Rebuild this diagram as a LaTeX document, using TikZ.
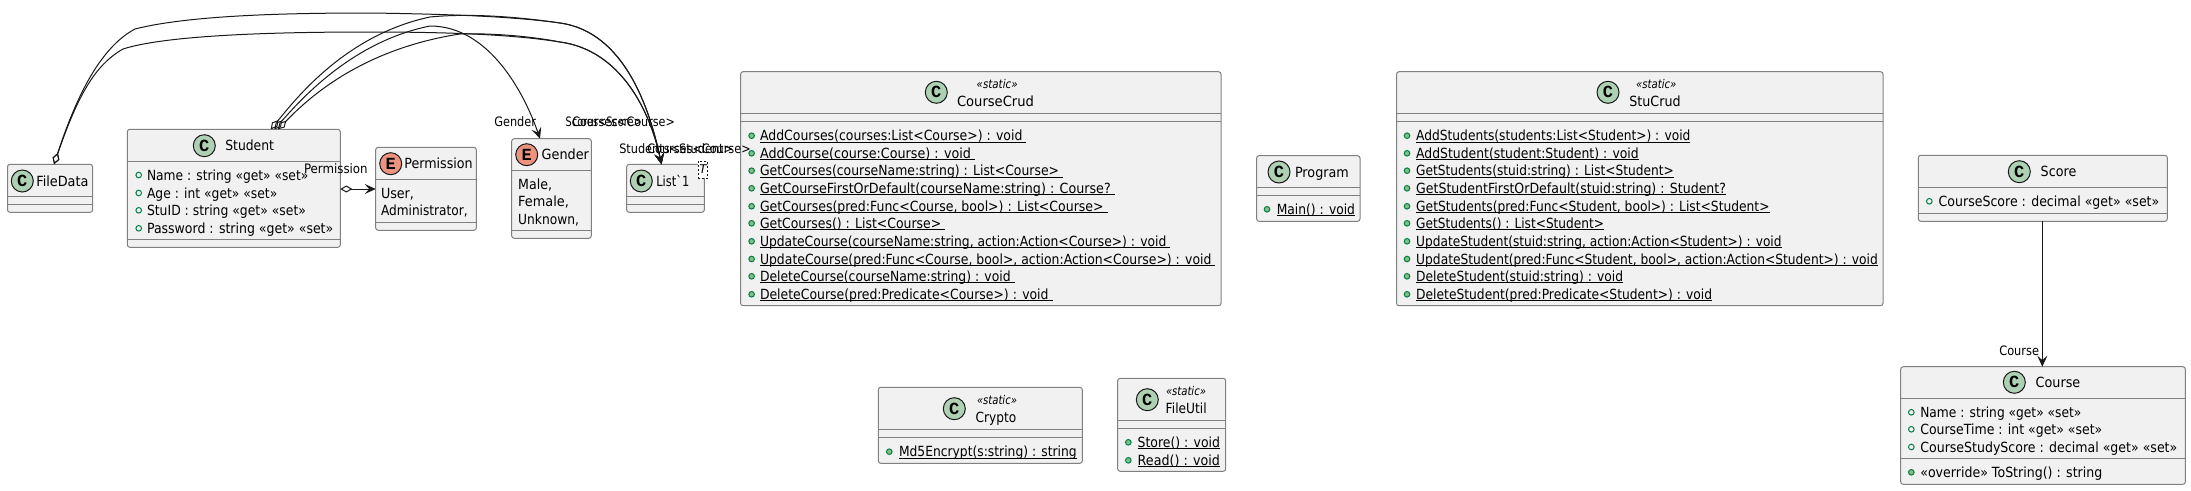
\documentclass[tikz,border=0pt]{standalone}
\usepackage{fontspec}
\usepackage{graphicx}
\usetikzlibrary{arrows.meta}
\newfontfamily\umlfont{DejaVu Sans}
\newfontfamily\spotfont{Liberation Mono}
\definecolor{boxbg}{HTML}{F1F1F1}
\definecolor{boxline}{HTML}{808080}
\definecolor{ink}{HTML}{181818}
\definecolor{spotC}{HTML}{ADD1B2}
\definecolor{spotE}{HTML}{EB937F}
\definecolor{vis}{HTML}{038048}
\definecolor{visfill}{HTML}{84BE84}
\newcounter{nd}
\newsavebox{\ulsave}
\newcommand{\ulbox}[1]{\sbox{\ulsave}{#1}\rlap{\rule[-2pt]{\wd\ulsave}{.9pt}}\usebox{\ulsave}}
\tikzset{
  classbox/.style={draw=boxline,fill=boxbg,line width=1pt,rounded corners=2.5pt,anchor=north west,inner sep=0pt,outer sep=0pt},
  sepline/.style={draw=boxline,line width=1pt},
  txt/.style={inner sep=0pt,outer sep=0pt,text=black,anchor=base west,font=\umlfont\fontsize{14}{16}\selectfont},
  lbl/.style={inner sep=0pt,outer sep=0pt,text=black,anchor=base west,font=\umlfont\fontsize{13}{15}\selectfont},
  stereo/.style={inner sep=0pt,outer sep=0pt,text=black,anchor=base west,font=\umlfont\itshape\fontsize{12}{14}\selectfont},
  spot/.style={circle,draw=ink,line width=1pt,minimum size=22pt,inner sep=0pt,outer sep=0pt,font=\spotfont\bfseries\fontsize{17}{17}\selectfont},
  conn/.style={draw=ink,line width=1pt},
  assoc/.style={conn,-{Stealth[length=11pt,width=10pt,inset=4.5pt]}},
  aggr/.style={conn,{Diamond[open,length=12pt,width=7pt]}-{Stealth[length=11pt,width=10pt,inset=4.5pt]}},
}
% name, x1, y1, x2, y2, sep1, sep2
\newcommand{\cbox}[7]{%
  \pgfmathsetmacro{\bw}{#4-#2}\pgfmathsetmacro{\bh}{#5-#3}%
  \node[classbox,minimum width=\bw pt,minimum height=\bh pt] (#1) at (#2,#3) {};
  \draw[sepline] (#1.west |- 0,#6) -- (#1.east |- 0,#6);
  \draw[sepline] (#1.west |- 0,#7) -- (#1.east |- 0,#7);
}
\newcommand{\cspot}[4]{\stepcounter{nd}\node[spot,fill=#1] (s\arabic{nd}) at (#3,#4) {#2};}
% style, x1, x2, y of text centre, baseline drop, text: fitted to the span x1..x2
\newcommand{\fit}[6]{\stepcounter{nd}\pgfmathsetmacro{\tw}{#3-#2}%
  \node[#1] (t\arabic{nd}) at (#2,#4+#5) {\resizebox{\tw pt}{\height}{#6}};}
\newcommand{\cfield}[4]{\fit{txt}{#1}{#2}{#3}{5}{#4}}
\newcommand{\clabel}[4]{\fit{lbl}{#1}{#2}{#3}{4.5}{#4}}
\newcommand{\cstereo}[4]{\fit{stereo}{#1}{#2}{#3}{4.5}{#4}}
\newcommand{\cpub}[5]{\draw[vis,line width=1pt] (#1,#4) circle (2.8pt); \cfield{#2}{#3}{#4}{#5}}
\newcommand{\cmeth}[5]{\filldraw[draw=vis,fill=visfill,line width=1pt] (#1,#4) circle (2.8pt); \cfield{#2}{#3}{#4}{\ulbox{#5}}}
\begin{document}
\begin{tikzpicture}[x=1pt,y=-1pt]
\useasboundingbox (0,0) rectangle (2191,490);
% ---------- boxes
\cbox{filedata}{7.5}{164.3}{92.6}{212.3}{196.3}{204.3}
\cspot{spotC}{C}{22.3}{181}
\cfield{36.3}{88.5}{181}{FileData}

\cbox{student}{127.3}{129.3}{340.3}{247.3}{161.7}{239.3}
\cspot{spotC}{C}{204.3}{145.7}
\cfield{225.3}{274}{145.7}{Student}
\cpub{138.7}{147}{308.3}{175}{Name : string «get» «set»}
\cpub{138.7}{147}{277.3}{193}{Age : int «get» «set»}
\cpub{138.7}{147}{306}{210.3}{StuID : string «get» «set»}
\cpub{138.7}{147}{333.3}{228.3}{Password : string «get» «set»}

\cbox{permission}{375.7}{147.3}{476.3}{230.3}{179.3}{222.3}
\cspot{spotE}{E}{390.7}{163.7}
\cfield{404.3}{472.7}{163.7}{Permission}
\cfield{381}{414}{193}{User,}
\cfield{381}{467.7}{210}{Administrator,}

\cbox{gender}{511.7}{138.7}{591.3}{238.3}{170.7}{230.3}
\cspot{spotE}{E}{526.7}{154.7}
\cfield{541.7}{589}{154.7}{Gender}
\cfield{518.2}{552}{184.3}{Male,}
\cfield{518.2}{568.9}{201.7}{Female,}
\cfield{518.2}{579}{219}{Unknown,}

\cbox{list}{626.7}{164.3}{704.3}{212.3}{196.3}{204.3}
\cspot{spotC}{C}{641.3}{181}
\cfield{656.3}{689.3}{181}{List`1}
\node[draw=ink,dash pattern=on 2pt off 2pt,fill=white,line width=.7pt,minimum width=9.4pt,minimum height=17.3pt,inner sep=0pt,outer sep=0pt,font=\umlfont\itshape\fontsize{12}{12}\selectfont] (listT) at (703,169.6) {T};

\cbox{coursecrud}{740.6}{71.7}{1221}{305.7}{113.3}{121.3}
\cspot{spotC}{C}{936.3}{92.3}
\cstereo{976.7}{1017.6}{84}{«static»}
\cfield{957}{1034}{101.3}{CourseCrud}
\cmeth{751.6}{760}{1026.4}{135.7}{AddCourses(courses:List<Course>) : void\ }
\cmeth{751.6}{760}{975}{153.3}{AddCourse(course:Course) : void\ }
\cmeth{751.6}{760}{1063}{170.7}{GetCourses(courseName:string) : List<Course>\ }
\cmeth{751.6}{760}{1114.8}{188.3}{GetCourseFirstOrDefault(courseName:string) : Course?\ }
\cmeth{751.6}{760}{1107.6}{206.3}{GetCourses(pred:Func<Course, bool>) : List<Course>\ }
\cmeth{751.6}{760}{945.2}{223.3}{GetCourses() : List<Course>\ }
\cmeth{751.6}{760}{1170.3}{241.3}{UpdateCourse(courseName:string, action:Action<Course>) : void\ }
\cmeth{751.6}{760}{1215.4}{259}{UpdateCourse(pred:Func<Course, bool>, action:Action<Course>) : void\ }
\cmeth{751.6}{760}{1014.6}{276.3}{DeleteCourse(courseName:string) : void\ }
\cmeth{751.6}{760}{1052.5}{294.3}{DeleteCourse(pred:Predicate<Course>) : void\ }

\cbox{program}{1256.6}{155.7}{1360}{221.3}{187.3}{195.3}
\cspot{spotC}{C}{1279}{172}
\cfield{1295}{1348.8}{172}{Program}
\cmeth{1267}{1276.8}{1355}{209.3}{Main() : void}

\cbox{stucrud}{1396.5}{71.7}{1883}{305.7}{113.3}{121.3}
\cspot{spotC}{C}{1608}{92.3}
\cstereo{1636}{1676.4}{84}{«static»}
\cfield{1629.4}{1680.6}{101.3}{StuCrud}
\cmeth{1407}{1416.2}{1690.4}{135.7}{AddStudents(students:List<Student>) : void}
\cmeth{1407}{1416.2}{1638.7}{153.3}{AddStudent(student:Student) : void}
\cmeth{1407}{1416.2}{1673.8}{170.7}{GetStudents(stuid:string) : List<Student>}
\cmeth{1407}{1416.2}{1726}{188.3}{GetStudentFirstOrDefault(stuid:string) : Student?}
\cmeth{1407}{1416.2}{1769.5}{206.3}{GetStudents(pred:Func<Student, bool>) : List<Student>}
\cmeth{1407}{1416.2}{1604}{223.3}{GetStudents() : List<Student>}
\cmeth{1407}{1416.2}{1781.5}{241.3}{UpdateStudent(stuid:string, action:Action<Student>) : void}
\cmeth{1407}{1416.2}{1877.7}{259}{UpdateStudent(pred:Func<Student, bool>, action:Action<Student>) : void}
\cmeth{1407}{1416.2}{1623.1}{276.3}{DeleteStudent(stuid:string) : void}
\cmeth{1407}{1416.2}{1712.1}{294.3}{DeleteStudent(pred:Predicate<Student>) : void}

\cbox{score}{1918.3}{155.3}{2167.3}{221.3}{187.3}{213.3}
\cspot{spotC}{C}{2019.3}{171.7}
\cfield{2040.7}{2076.3}{171.7}{Score}
\cpub{1929.3}{1938.7}{2159.3}{201.3}{CourseScore : decimal «get» «set»}

\cbox{course}{1900.7}{366.7}{2185.3}{484.3}{398.3}{458.3}
\cspot{spotC}{C}{2014.3}{382.3}
\cfield{2035.7}{2080.3}{382.3}{Course}
\cpub{1911.3}{1920.3}{2081.3}{412.3}{Name : string «get» «set»}
\cpub{1911.3}{1920.3}{2102.3}{429.3}{CourseTime : int «get» «set»}
\cpub{1911.3}{1920.3}{2177.3}{447}{CourseStudyScore : decimal «get» «set»}
\filldraw[draw=vis,fill=visfill,line width=1pt] (1911.3,472.3) circle (2.8pt);
\cfield{1920.3}{2102.3}{472.3}{«override» ToString() : string}

\cbox{crypto}{878.3}{387.3}{1082.3}{463.3}{429.3}{437.3}
\cspot{spotC}{C}{954.3}{408.7}
\cstereo{977}{1017}{400.3}{«static»}
\cfield{975.7}{1016.3}{417.3}{Crypto}
\cmeth{889.3}{899}{1076.7}{451.7}{Md5Encrypt(s:string) : string}

\cbox{fileutil}{1117.7}{378.3}{1225.7}{471.3}{420.7}{428.7}
\cspot{spotC}{C}{1147.3}{399.7}
\cstereo{1166}{1206}{391.3}{«static»}
\cfield{1165.7}{1206.7}{408.3}{FileUtil}
\cmeth{1128.3}{1137.7}{1220}{442.3}{Store() : void}
\cmeth{1128.3}{1137.7}{1220}{460.3}{Read() : void}

% ---------- connectors
\draw[aggr] ([xshift=4pt]filedata.north) .. controls (80,85) and (105,45) .. (135,29)
  .. controls (190,15) and (290,13) .. (370,13)
  .. controls (440,14) and (510,16) .. (560,23)
  .. controls (625,32) and (650,110) .. ([xshift=-4pt]list.north);
\draw[aggr] ([xshift=4pt]filedata.north) .. controls (78,95) and (95,65) .. (123,49)
  .. controls (170,34) and (290,32) .. (370,32)
  .. controls (440,32) and (510,34) .. (560,42)
  .. controls (620,50) and (650,110) .. ([xshift=-4pt]list.north);
\draw[aggr] ([xshift=37pt]student.north) .. controls (295,100) and (345,35) .. (430,17)
  .. controls (470,13) and (520,17) .. (560,23)
  .. controls (625,32) and (650,110) .. ([xshift=-4pt]list.north);
\draw[aggr] ([xshift=40.5pt]student.north) .. controls (298,103) and (350,42) .. (430,26)
  .. controls (490,26) and (525,95) .. ([xshift=-11.5pt]gender.north);
\draw[aggr] ([xshift=44pt]student.north) .. controls (302,105) and (355,50) .. (460,34)
  .. controls (490,33) and (530,36) .. (560,42)
  .. controls (620,50) and (650,110) .. ([xshift=-4pt]list.north);
\draw[aggr] (student.east |- 0,189) -- (permission.west |- 0,189);
\draw[assoc] (score.south -| 2042.3,0) -- (course.north -| 2042.3,0);

% ---------- connector labels
\clabel{304}{367.7}{168.7}{Permission}
\clabel{494.3}{536}{122.3}{Gender}
\clabel{565.7}{641.7}{122.3}{Scores<Score>}
\clabel{572.3}{675}{122.3}{Courses<Course>}
\clabel{619.3}{733}{149.3}{Students<Student>}
\clabel{647.3}{750.7}{149.3}{Courses<Course>}
\clabel{1999.3}{2039}{350.7}{Course}
\end{tikzpicture}
\end{document}
